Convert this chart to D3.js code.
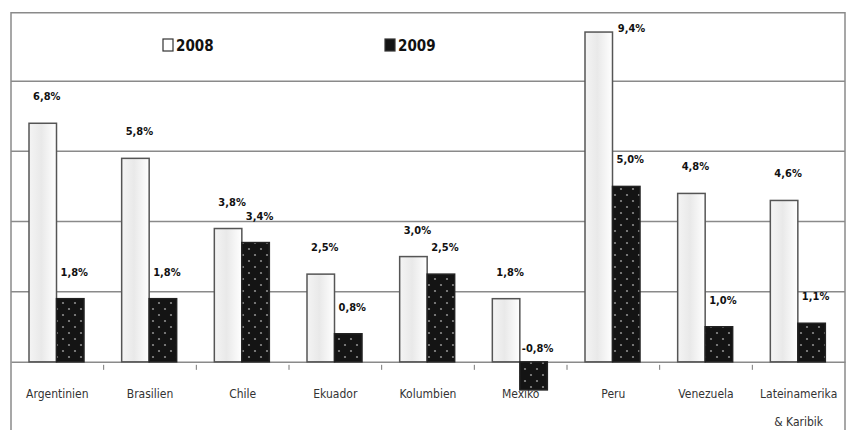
<!DOCTYPE html>
<html lang="de">
<head>
    <meta charset="UTF-8">
    <title>Wachstum Lateinamerika 2008/2009</title>
    <script src="https://cdnjs.cloudflare.com/ajax/libs/d3/7.8.5/d3.min.js"></script>
    <style>
        body { margin: 0; background: #fff; }
        .val { font-family: "Liberation Sans Narrow", "DejaVu Sans Condensed", sans-serif; font-weight: bold; font-size: 11px; fill: #111; }
        .cat text { font-family: "Liberation Sans Narrow", "DejaVu Sans Condensed", sans-serif; font-size: 12px; fill: #333; }
        .legend { font-family: "Liberation Sans Narrow", "DejaVu Sans Condensed", sans-serif; font-weight: bold; font-size: 15px; fill: #111; }
    </style>
</head>
<body>
<div id="chart"></div>
<script>
    // data (percent)
    const categories = ["Argentinien", "Brasilien", "Chile", "Ekuador", "Kolumbien", "Mexiko", "Peru", "Venezuela", "Lateinamerika & Karibik"];
    const series = ["2008", "2009"];
    const values2008 = [6.8, 5.8, 3.8, 2.5, 3.0, 1.8, 9.4, 4.8, 4.6];
    const values2009 = [1.8, 1.8, 3.4, 0.8, 2.5, -0.8, 5.0, 1.0, 1.1];
    const gridValues = [2, 4, 6, 8];

    const width = 848, height = 430;
    const plot = {left: 11, right: 845, top: 11, bottom: 432};

    const svg = d3.select("#chart").append("svg")
        .attr("width", width)
        .attr("height", height);

    const defs = svg.append("defs");

    // light bars: pale grey in the middle
    const grad = defs.append("linearGradient").attr("id", "light")
        .attr("x1", "0%").attr("x2", "100%").attr("y1", "0%").attr("y2", "0%");
    grad.append("stop").attr("offset", "0%").attr("stop-color", "#f4f4f4");
    grad.append("stop").attr("offset", "45%").attr("stop-color", "#e9e9e9");
    grad.append("stop").attr("offset", "100%").attr("stop-color", "#ffffff");

    // dark bars: black with small grey dots
    const pat = defs.append("pattern").attr("id", "dots")
        .attr("patternUnits", "userSpaceOnUse")
        .attr("width", 12).attr("height", 12);
    pat.append("rect").attr("width", 12).attr("height", 12).attr("fill", "#141414");
    pat.append("circle").attr("cx", 3).attr("cy", 3).attr("r", 1.1).attr("fill", "#8c8c8c");
    pat.append("circle").attr("cx", 9).attr("cy", 9).attr("r", 1.1).attr("fill", "#8c8c8c");

    const y = d3.scaleLinear().domain([-2, 10]).range([plot.bottom, plot.top]);
    const x = d3.scaleBand().domain(categories).range([plot.left, plot.right]);
    const xSub = d3.scaleBand().domain(series).range([18, 73]);

    // gridlines
    svg.selectAll(".grid")
        .data(gridValues)
        .enter().append("line")
        .attr("x1", plot.left).attr("x2", plot.right)
        .attr("y1", d => y(d)).attr("y2", d => y(d))
        .attr("stroke", "#8a8a8a")
        .attr("stroke-width", 1.5);

    // frame (top, left, right)
    svg.append("path")
        .attr("d", `M${plot.left},${plot.bottom} V${y(9.95)} H${plot.right} V${plot.bottom}`)
        .attr("fill", "none")
        .attr("stroke", "#8a8a8a")
        .attr("stroke-width", 1.5);

    // category axis on the zero line
    const axis = svg.append("g")
        .attr("class", "cat")
        .attr("transform", `translate(0,${y(0)})`)
        .call(d3.axisBottom(x).tickSize(0).tickPadding(28));
    axis.select(".domain").attr("stroke", "#8a8a8a").attr("stroke-width", 1.5);
    axis.selectAll(".tick text").each(function (d) {
        const t = d3.select(this);
        const parts = d.split(" & ");
        if (parts.length > 1) {
            t.text(null);
            t.append("tspan").attr("x", 0).text(parts[0]);
            t.append("tspan").attr("x", 0).attr("dy", "2.3em").text("& " + parts[1]);
        }
    });

    // small ticks between categories
    svg.selectAll(".sep")
        .data(categories.slice(1))
        .enter().append("line")
        .attr("x1", d => x(d)).attr("x2", d => x(d))
        .attr("y1", y(0) + 3).attr("y2", y(0) + 8)
        .attr("stroke", "#777")
        .attr("stroke-width", 1);

    const rows = [];
    categories.forEach((c, i) => {
        rows.push({cat: c, key: "2008", v: values2008[i]});
        rows.push({cat: c, key: "2009", v: values2009[i]});
    });

    svg.selectAll(".bar")
        .data(rows)
        .enter().append("rect")
        .attr("x", d => x(d.cat) + xSub(d.key))
        .attr("width", xSub.bandwidth())
        .attr("y", d => y(Math.max(0, d.v)))
        .attr("height", d => Math.abs(y(d.v) - y(0)))
        .attr("fill", d => d.key === "2008" ? "url(#light)" : "url(#dots)")
        .attr("stroke", d => d.key === "2008" ? "#555" : "#222")
        .attr("stroke-width", 1.5);

    const fmt = v => d3.format(".1f")(v).replace(".", ",").replace("\u2212", "-") + "%";

    svg.selectAll(".val")
        .data(rows)
        .enter().append("text")
        .attr("class", "val")
        .attr("text-anchor", "middle")
        .attr("x", d => {
            const cx = x(d.cat) + xSub(d.key) + xSub.bandwidth() / 2;
            if (y(d.v) - 27 < plot.top + 10) return cx + xSub.bandwidth() / 2 + 19;
            return cx + 4;
        })
        .attr("y", d => {
            if (d.v < 0) return y(0) - 10;
            if (y(d.v) - 27 < plot.top + 10) return y(d.v);
            return y(d.v) - 23;
        })
        .text(d => fmt(d.v));

    // legend
    const legend = [{key: "2008", x: 163}, {key: "2009", x: 385}];
    const lg = svg.selectAll(".lg")
        .data(legend)
        .enter().append("g")
        .attr("transform", d => `translate(${d.x},39)`);
    lg.append("rect")
        .attr("width", 10).attr("height", 12)
        .attr("fill", d => d.key === "2008" ? "#fff" : "#141414")
        .attr("stroke", "#333").attr("stroke-width", 1.2);
    lg.append("text")
        .attr("class", "legend")
        .attr("x", 13).attr("y", 12)
        .text(d => d.key);
</script>
</body>
</html>
